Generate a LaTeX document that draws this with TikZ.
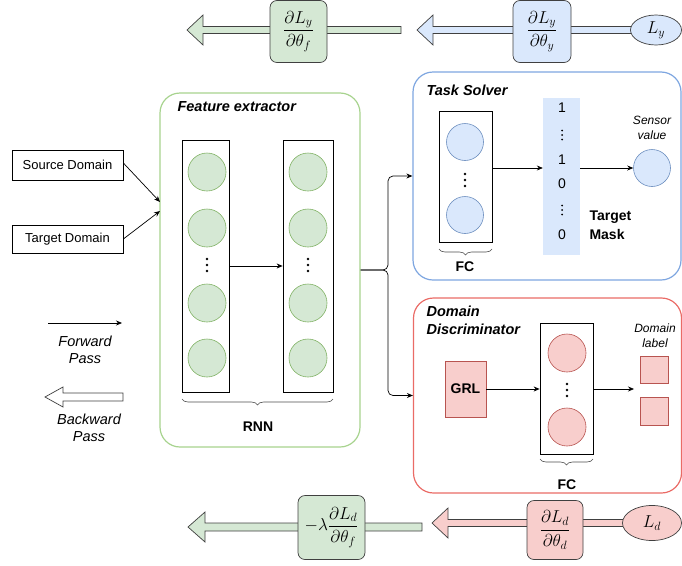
\documentclass[tikz,border=0pt]{standalone}
\usepackage{fontspec}
\setmainfont{Liberation Sans}
\usepackage{amsmath}
\usetikzlibrary{shapes.geometric,decorations.pathreplacing,arrows.meta}
\definecolor{gfill}{HTML}{D5E8D4}
\definecolor{gline}{HTML}{82B366}
\definecolor{bfill}{HTML}{DAE8FC}
\definecolor{bline}{HTML}{6C8EBF}
\definecolor{rfill}{HTML}{F8CECC}
\definecolor{rline}{HTML}{B85450}
\definecolor{feline}{HTML}{A7D38E}
\definecolor{tsline}{HTML}{7EA6E0}
\definecolor{ddline}{HTML}{EA6B66}
\newcommand\mydots[2]{\fill (#1) ++(0,-#2) circle (1.3) ++(0,#2) circle (1.3) ++(0,#2) circle (1.3);}
\begin{document}
\begin{tikzpicture}[x=1pt,y=-1pt,
  col/.style={draw=black, line width=0.7pt, fill=white, inner sep=0},
  gcirc/.style={circle, draw=gline, fill=gfill, minimum size=38pt, inner sep=0, line width=0.6pt},
  bcirc/.style={circle, draw=bline, fill=bfill, minimum size=37pt, inner sep=0, line width=0.6pt},
  rcirc/.style={circle, draw=rline, fill=rfill, minimum size=38pt, inner sep=0, line width=0.6pt},
  arr/.style={-{Stealth[length=6pt,width=5pt]}, line width=0.7pt},
  fat/.style={draw=black!75, line width=0.7pt, line join=miter},
  title/.style={font=\fontsize{14.5}{17}\selectfont\bfseries\itshape, align=left},
  lbl/.style={font=\fontsize{14}{16}\selectfont\bfseries},
  itx/.style={font=\fontsize{14.5}{17}\selectfont\itshape, align=center},
  smit/.style={font=\fontsize{12}{15}\selectfont\itshape, align=center},
  inbox/.style={draw=black, line width=0.7pt, fill=white, inner sep=0, font=\fontsize{13}{15}\selectfont},
  grad/.style={rounded corners=7pt, inner sep=0, line width=0.7pt, font=\fontsize{18}{20}\selectfont},
  big/.style={rounded corners=20pt, line width=1.2pt, inner sep=0},
  brc/.style={decorate, decoration={brace, amplitude=6pt}, draw=black!70, line width=0.6pt}
]
\useasboundingbox (0,0) rectangle (682,565);

% ---------- top gradient row ----------
\draw[fat, fill=gfill] (187,30) -- (203,15) -- (203,26.5) -- (401,26.5) -- (401,33.5) -- (203,33.5) -- (203,45) -- cycle;
\draw[fat, fill=bfill] (417,30) -- (433,15) -- (433,26.5) -- (640,26.5) -- (640,33.5) -- (433,33.5) -- (433,45) -- cycle;
\node[grad, draw=black!75, fill=gfill, minimum width=57pt, minimum height=62pt] (gf1) at (298.5,31.5) {$\dfrac{\partial L_y}{\partial\theta_f}$};
\node[grad, draw=black!75, fill=bfill, minimum width=58pt, minimum height=62pt] (gy) at (542,31.5) {$\dfrac{\partial L_y}{\partial\theta_y}$};
\node[ellipse, draw=black!75, fill=bfill, line width=0.7pt, minimum width=51pt, minimum height=30pt, inner sep=0, font=\fontsize{18}{20}\selectfont] (ly) at (656,30) {$L_y$};

% ---------- bottom gradient row ----------
\draw[fat, fill=gfill] (188,527) -- (205,512) -- (205,523) -- (422,523) -- (422,531) -- (205,531) -- (205,542) -- cycle;
\draw[fat, fill=rfill] (432,523) -- (448,508) -- (448,519.5) -- (640,519.5) -- (640,526.5) -- (448,526.5) -- (448,538) -- cycle;
\node[grad, draw=black!75, fill=gfill, minimum width=67pt, minimum height=64pt] (gf2) at (331.5,527.5) {$-\lambda\dfrac{\partial L_d}{\partial\theta_f}$};
\node[grad, draw=black!75, fill=rfill, minimum width=56pt, minimum height=59pt] (gd) at (555,530) {$\dfrac{\partial L_d}{\partial\theta_d}$};
\node[ellipse, draw=black!75, fill=rfill, line width=0.7pt, minimum width=59pt, minimum height=35pt, inner sep=0, font=\fontsize{18}{20}\selectfont] (ld) at (652,523) {$L_d$};

% ---------- inputs ----------
\node[inbox, minimum width=111pt, minimum height=30pt] (src) at (67.5,165) {Source Domain};
\node[inbox, minimum width=111pt, minimum height=28pt] (tgt) at (67.5,239) {Target Domain};

% ---------- legend ----------
\coordinate (fp1) at (48,323);
\coordinate (fp2) at (122,323);
\draw[arr] (fp1) -- (fp2);
\node[itx] (fptxt) at (85,350) {Forward\\Pass};
\draw[fat, fill=white] (45,397) -- (63,387) -- (63,393) -- (123,393) -- (123,401) -- (63,401) -- (63,407) -- cycle;
\node[itx] (bptxt) at (89,428) {Backward\\Pass};

% ---------- feature extractor ----------
\node[big, draw=feline, minimum width=200pt, minimum height=354pt] (fe) at (260,270) {};
\node[title, anchor=west] (fet) at (174,107) {Feature extractor};
\node[col, minimum width=47pt, minimum height=252pt] (c1) at (205.5,266) {};
\node[col, minimum width=50pt, minimum height=252pt] (c2) at (308,266) {};
\foreach \y [count=\i] in {172,228,303,358} {
  \node[gcirc] (a\i) at (207,\y) {};
  \node[gcirc] (b\i) at (308,\y) {};
}
\mydots{207,265}{6}
\mydots{308,265}{6}
\draw[arr] (c1.east) -- (c2.west);
\draw[brc] (333,399) -- (182,399);
\node[lbl] (rnn) at (258,427) {RNN};

\coordinate (in1) at (160,202);
\coordinate (in2) at (160,211);
\draw[arr] (src.east) ++(0,-2) -- (in1);
\draw[arr] (tgt.east) -- (in2);

% ---------- task solver ----------
\node[big, draw=tsline, minimum width=268pt, minimum height=208pt] (ts) at (547,176) {};
\node[title, anchor=west] (tst) at (423,90) {Task Solver};
\node[col, minimum width=53pt, minimum height=131pt] (tsfc) at (465.5,176.5) {};
\node[bcirc] (t1) at (465,142) {};
\node[bcirc] (t2) at (465,215) {};
\mydots{465,180}{6}
\draw[brc] (492,249) -- (439,249);
\node[lbl] (fc1) at (465,267) {FC};
\node[fill=bfill, minimum width=37pt, minimum height=157pt, inner sep=0] (mask) at (561.5,176.5) {};
\begin{scope}[font=\fontsize{14}{16}\selectfont]
\node (m1) at (562,108) {1};
\node (m3) at (562,160) {1};
\node (m4) at (562,184) {0};
\node (m6) at (562,235) {0};
\end{scope}
\foreach \y in {135,210} {\fill (562,\y) ++(0,-4.5) circle (1) ++(0,4.5) circle (1) ++(0,4.5) circle (1);}
\node[bcirc] (sv) at (652,168) {};
\node[smit] (svt) at (652,128) {Sensor\\value};
\node[lbl, align=left, anchor=west, font=\fontsize{14}{19}\selectfont\bfseries] (tm) at (586,225) {Target\\Mask};
\draw[arr] (tsfc.east |- sv) -- (mask.west |- sv);
\draw[arr] (mask.east |- sv) -- (sv.west);

% ---------- domain discriminator ----------
\node[big, draw=ddline, minimum width=268pt, minimum height=195pt] (dd) at (547.5,395.5) {};
\node[title, anchor=north west, font=\fontsize{14.5}{18}\selectfont\bfseries\itshape] (ddt) at (423,302) {Domain\\Discriminator};
\node[draw=rline, fill=rfill, line width=0.6pt, minimum width=41pt, minimum height=56pt, inner sep=0, lbl] (grl) at (465.5,389) {GRL};
\node[col, minimum width=53pt, minimum height=131pt] (ddfc) at (566.5,388.5) {};
\node[rcirc] (r1) at (567,353) {};
\node[rcirc] (r2) at (567,427) {};
\mydots{567,390}{6}
\draw[brc] (593,459) -- (540,459);
\node[lbl] (fc2) at (567,485) {FC};
\node[draw=rline, fill=rfill, line width=0.6pt, minimum width=28pt, minimum height=27pt, inner sep=0] (dl1) at (654,369.5) {};
\node[draw=rline, fill=rfill, line width=0.6pt, minimum width=28pt, minimum height=28pt, inner sep=0] (dl2) at (654,411) {};
\node[smit] (dlt) at (655,336) {Domain\\label};
\coordinate (dlin) at (634,389);
\draw[arr] (grl.east) -- (ddfc.west |- grl);
\draw[arr] (ddfc.east |- dlin) -- (dlin);

% ---------- fork ----------
\coordinate (fork) at (388,270);
\draw[arr, rounded corners=5pt] (fe.east) -- (fork) -- (fork |- ts.west) -- (ts.west);
\draw[arr, rounded corners=5pt] (fe.east) -- (fork) -- (fork |- dd.west) -- (dd.west);
\end{tikzpicture}
\end{document}
